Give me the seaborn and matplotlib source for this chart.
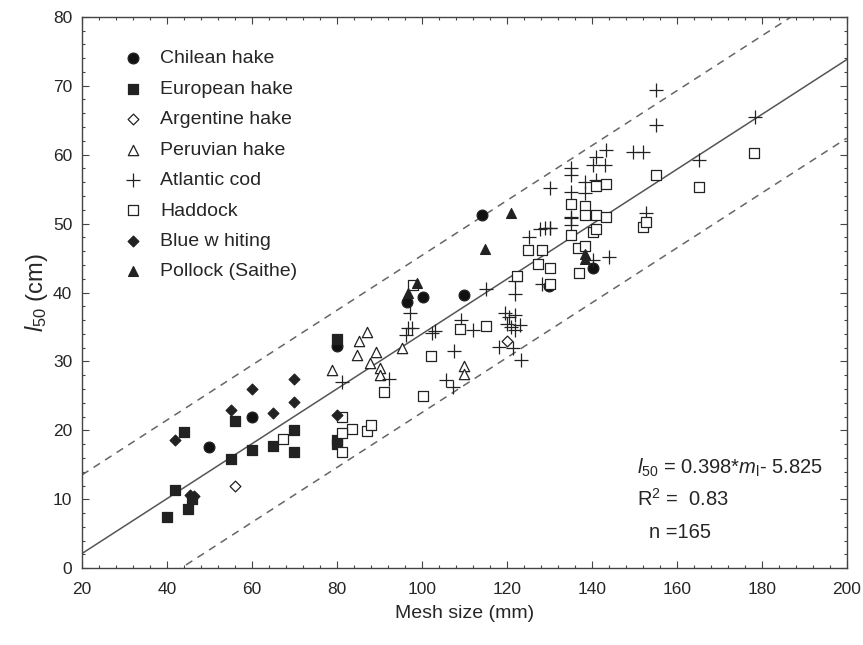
import matplotlib.pyplot as plt
import numpy as np
import pandas as pd
import seaborn as sns
from matplotlib.ticker import MultipleLocator

# mesh size (mm) and l50 (cm), one pair of lists per species
chilean_x = [50, 60, 80, 96.6, 100.2, 110, 114.2, 130, 140.3]
chilean_y = [17.6, 21.9, 32.2, 38.6, 39.3, 39.6, 51.3, 41.0, 43.5]

european_x = [40, 42, 44, 45, 46, 55, 56, 60, 65, 70, 70, 80, 80, 80]
european_y = [7.5, 11.4, 19.7, 8.6, 10.0, 15.8, 21.3, 17.2, 17.8, 20.1, 16.9, 33.2, 18.0, 18.6]

argentine_x = [56, 120]
argentine_y = [12.0, 33.0]

peruvian_x = [78.8, 84.8, 85.2, 87, 87.8, 89.3, 90.1, 90.1, 95.4, 110, 110]
peruvian_y = [28.7, 31.0, 33.0, 34.2, 29.8, 31.4, 29.1, 28.0, 32.0, 29.3, 28.2]

cod_x = [81.3, 92.3, 96.2, 96.8, 97.6, 97.2, 102.3, 103.2, 105.8, 107.4, 107.6,
         109.2, 112.1, 115.2, 118.2, 121.5, 123.4, 119.5, 120.5, 122.0, 120.0,
         121.0, 123.0, 122.0, 121.9, 121.9, 125.3, 127.8, 129.0, 130.1, 128.2,
         140.3, 144.1, 135.2, 135.2, 135.2, 135.2, 130.1, 138.4, 138.4, 141.1,
         140.3, 143.1, 141.1, 143.4, 149.7, 152.1, 165.3, 152.7, 155.2, 155.2,
         178.4, 130.1, 135.2, 135.2]
cod_y = [27.0, 27.4, 33.8, 34.8, 34.8, 37.0, 34.1, 34.4, 27.3, 26.3, 31.5,
         36.0, 34.6, 40.5, 32.1, 31.9, 30.2, 37.0, 36.5, 36.8, 35.5,
         35.0, 35.3, 34.5, 41.6, 39.8, 48.0, 49.2, 49.4, 49.3, 41.3,
         44.7, 45.2, 51.0, 54.6, 58.0, 57.0, 55.1, 56.1, 54.4, 56.3,
         58.5, 58.5, 59.7, 60.7, 60.4, 60.4, 59.2, 51.5, 69.4, 64.3,
         65.5, 49.3, 49.8, 50.8]

haddock_x = [67.4, 81.1, 83.5, 81.1, 87, 88, 81.1, 91.1, 100.3, 102.1, 98,
             108.9, 115, 122.3, 125, 128.2, 127.4, 130.1, 130.1, 136.9, 135.2,
             136.8, 138.4, 135.2, 138.4, 138.4, 141.1, 143.4, 140.3, 141.1,
             141.1, 143.4, 155.2, 165.3, 152.1, 152.7, 178.1]
haddock_y = [18.8, 21.9, 20.2, 19.6, 19.9, 20.8, 16.8, 25.6, 25.0, 30.8, 41.1,
             34.7, 35.2, 42.4, 46.2, 46.2, 44.1, 43.6, 41.3, 42.8, 48.3,
             46.5, 46.7, 52.9, 52.5, 51.2, 51.2, 51.0, 48.8, 49.2,
             55.4, 55.8, 57.0, 55.3, 49.5, 50.3, 60.2]

whiting_x = [42, 45.4, 46.4, 55, 60, 65, 70, 70, 80]
whiting_y = [18.6, 10.6, 10.5, 22.9, 26.0, 22.5, 27.5, 24.1, 22.2]

pollock_x = [96.8, 98.9, 114.8, 121.1, 138.4, 138.4]
pollock_y = [40.0, 41.4, 46.3, 51.6, 45.6, 44.8]

# fitted model shown in the annotation, with its band
slope = 0.398
intercept = -5.825
band = 11.4
mesh_range = [20, 200]

sns.set_style("ticks")
plt.rcParams["font.family"] = ["Liberation Sans", "DejaVu Sans"]
plt.rcParams["mathtext.fontset"] = "custom"
plt.rcParams["mathtext.rm"] = "Liberation Sans"
plt.rcParams["mathtext.it"] = "Liberation Sans:italic"

species = [
    ("Chilean hake", chilean_x, chilean_y, "o", "#111111", 60),
    ("European hake", european_x, european_y, "s", "#222222", 55),
    ("Argentine hake", argentine_x, argentine_y, "D", "white", 30),
    ("Peruvian hake", peruvian_x, peruvian_y, "^", "white", 55),
    ("Atlantic cod", cod_x, cod_y, "+", "#222222", 110),
    ("Haddock", haddock_x, haddock_y, "s", "white", 60),
    ("Blue w hiting", whiting_x, whiting_y, "D", "#222222", 30),
    ("Pollock (Saithe)", pollock_x, pollock_y, "^", "#222222", 50),
]

fig = plt.figure(figsize=(8.63, 6.45), dpi=100)
ax = fig.add_axes([0.095, 0.119, 0.886, 0.855])

line_df = pd.DataFrame({"mesh": mesh_range})
line_df["fit"] = slope * line_df["mesh"] + intercept
sns.lineplot(data=line_df, x="mesh", y="fit", color="#555555", lw=1.1, ax=ax)
sns.lineplot(x=line_df["mesh"], y=line_df["fit"] + band, color="#666666",
             lw=1.1, linestyle=(0, (5, 4)), ax=ax)
sns.lineplot(x=line_df["mesh"], y=line_df["fit"] - band, color="#666666",
             lw=1.1, linestyle=(0, (5, 4)), ax=ax)

for name, xs, ys, marker, face, size in species:
    df = pd.DataFrame({"mesh": xs, "l50": ys})
    if marker == "+":
        sns.scatterplot(data=df, x="mesh", y="l50", marker="+", s=size,
                        color="#222222", linewidth=0.9, label=name, ax=ax,
                        zorder=3)
    else:
        sns.scatterplot(data=df, x="mesh", y="l50", marker=marker, s=size,
                        color=face, edgecolor="#222222", linewidth=0.9,
                        label=name, ax=ax, zorder=3)

ax.set_xlim(20, 200)
ax.set_ylim(0, 80)
ax.xaxis.set_major_locator(MultipleLocator(20))
ax.xaxis.set_minor_locator(MultipleLocator(4))
ax.yaxis.set_major_locator(MultipleLocator(10))
ax.yaxis.set_minor_locator(MultipleLocator(2))
ax.tick_params(which="both", direction="in", top=True, right=True,
               labelsize=12.5, color="#444444", width=0.8, pad=7)
ax.tick_params(axis="x", which="both", pad=10)
ax.tick_params(which="major", length=5)
ax.tick_params(which="minor", length=2.5)
for s in ax.spines.values():
    s.set_color("#444444")
    s.set_linewidth(1.0)

ax.set_xlabel("Mesh size (mm)", fontsize=14, labelpad=6)
ax.set_ylabel("$l_{50}$ (cm)", fontsize=17, labelpad=2)

ax.legend(loc="upper left", bbox_to_anchor=(0.018, 0.972), frameon=False,
          fontsize=14, labelspacing=0.66, handletextpad=0.4,
          markerscale=1.0)

ax.text(0.726, 0.172, "$l_{50}$ = 0.398*$m_{\\rm l}$- 5.825", transform=ax.transAxes,
        fontsize=14.5)
ax.text(0.726, 0.113, "R$^2$ =  0.83", transform=ax.transAxes, fontsize=14.5)
ax.text(0.742, 0.055, "n =165", transform=ax.transAxes, fontsize=14.5)

fig.savefig("out.png", dpi=100)
